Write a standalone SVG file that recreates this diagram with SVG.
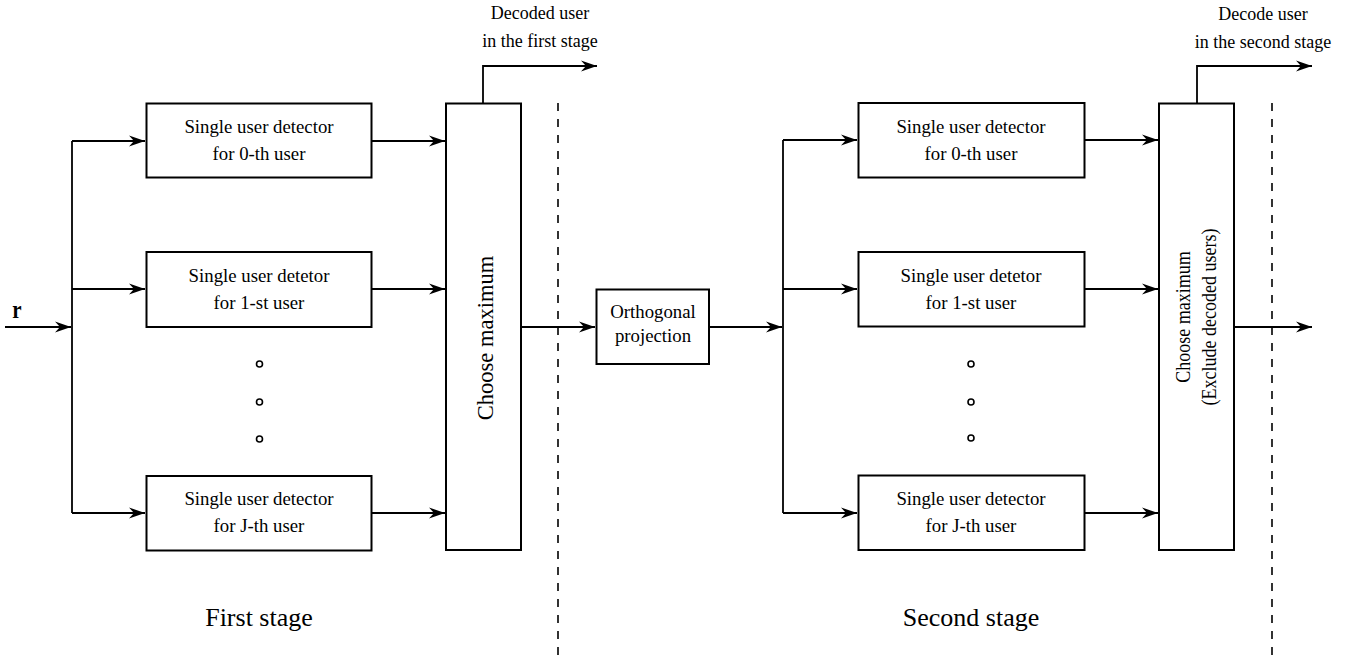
<svg xmlns="http://www.w3.org/2000/svg" width="1349" height="662" viewBox="0 0 1349 662">
<defs>
<style>
.box{fill:#fff;stroke:#000;stroke-width:2}
.ln{fill:none;stroke:#000;stroke-width:1.8}
.dash{fill:none;stroke:#000;stroke-width:1.6;stroke-dasharray:8 8}
.t{font-family:"Liberation Serif","Times New Roman",serif;fill:#000;text-anchor:middle}
.b{font-size:18.8px}
.lab{font-size:18px}
.st{font-size:26px}
.dot{fill:#fff;stroke:#000;stroke-width:1.6}
</style>
<marker id="ah" viewBox="-17 -6 19 12" refX="0" refY="0" markerWidth="19" markerHeight="12" markerUnits="userSpaceOnUse" orient="auto">
<path d="M-16,-5.5 L0,0 L-16,5.5 L-11,0 Z" fill="#000"/>
</marker>
</defs>

<g id="connectors">
<path class="ln" d="M5,327 H71" marker-end="url(#ah)"/>
<path class="ln" d="M72,141 V513"/>
<path class="ln" d="M72,141 H145" marker-end="url(#ah)"/>
<path class="ln" d="M72,289 H145" marker-end="url(#ah)"/>
<path class="ln" d="M72,513 H145" marker-end="url(#ah)"/>
<path class="ln" d="M372,141 H445" marker-end="url(#ah)"/>
<path class="ln" d="M372,289 H445" marker-end="url(#ah)"/>
<path class="ln" d="M372,513 H445" marker-end="url(#ah)"/>
<path class="ln" d="M483,103 V66 H597" marker-end="url(#ah)"/>
<path class="ln" d="M521,327 H595" marker-end="url(#ah)"/>
<path class="ln" d="M709,327 H782" marker-end="url(#ah)"/>
<path class="ln" d="M783,140 V513"/>
<path class="ln" d="M783,140 H857" marker-end="url(#ah)"/>
<path class="ln" d="M783,289 H857" marker-end="url(#ah)"/>
<path class="ln" d="M783,513 H857" marker-end="url(#ah)"/>
<path class="ln" d="M1084,140 H1158" marker-end="url(#ah)"/>
<path class="ln" d="M1084,289 H1158" marker-end="url(#ah)"/>
<path class="ln" d="M1084,513 H1158" marker-end="url(#ah)"/>
<path class="ln" d="M1197,103 V66 H1312" marker-end="url(#ah)"/>
<path class="ln" d="M1234,327 H1312" marker-end="url(#ah)"/>
</g>

<g id="dividers">
<path class="dash" d="M558,103 V662"/>
<path class="dash" d="M1272,103 V662"/>
</g>

<g id="input">
<text class="t" x="17" y="318" font-size="21" font-weight="bold" transform="translate(17,318) scale(1,1.2) translate(-17,-318)">r</text>
</g>

<g id="det1-0">
<rect class="box" x="146.5" y="103.5" width="225" height="74"/>
<text class="t b" x="259" y="132.5">Single user detector</text>
<text class="t b" x="259" y="159.5">for 0-th user</text>
</g>
<g id="det1-1">
<rect class="box" x="146.5" y="252" width="225" height="75"/>
<text class="t b" x="259" y="281.5">Single user detetor</text>
<text class="t b" x="259" y="308.5">for 1-st user</text>
</g>
<g id="dots1">
<circle class="dot" cx="259.5" cy="364" r="3"/>
<circle class="dot" cx="259.5" cy="402" r="3"/>
<circle class="dot" cx="259.5" cy="439" r="3"/>
</g>
<g id="det1-J">
<rect class="box" x="146.5" y="476" width="225" height="74.5"/>
<text class="t b" x="259" y="505">Single user detector</text>
<text class="t b" x="259" y="532">for J-th user</text>
</g>
<g id="choose1">
<rect class="box" x="446" y="103.5" width="75" height="446.5"/>
<text class="t" font-size="22.5" transform="translate(493,338) rotate(-90)" x="0" y="0">Choose maximum</text>
</g>
<g id="label1">
<text class="t lab" x="540" y="19">Decoded user</text>
<text class="t lab" x="540" y="47">in the first stage</text>
</g>
<g id="stage1">
<text class="t st" x="259" y="626">First stage</text>
</g>

<g id="orth">
<rect class="box" x="596.5" y="289.5" width="112.5" height="74.5"/>
<text class="t b" x="653" y="318">Orthogonal</text>
<text class="t b" x="653" y="342">projection</text>
</g>

<g id="det2-0">
<rect class="box" x="858.5" y="103" width="226" height="74.5"/>
<text class="t b" x="971" y="132.5">Single user detector</text>
<text class="t b" x="971" y="159.5">for 0-th user</text>
</g>
<g id="det2-1">
<rect class="box" x="858.5" y="252" width="226" height="74.5"/>
<text class="t b" x="971" y="281.5">Single user detetor</text>
<text class="t b" x="971" y="308.5">for 1-st user</text>
</g>
<g id="dots2">
<circle class="dot" cx="971" cy="364" r="3"/>
<circle class="dot" cx="971" cy="402" r="3"/>
<circle class="dot" cx="971" cy="438" r="3"/>
</g>
<g id="det2-J">
<rect class="box" x="858.5" y="475.5" width="226" height="74.5"/>
<text class="t b" x="971" y="505">Single user detector</text>
<text class="t b" x="971" y="532">for J-th user</text>
</g>
<g id="choose2">
<rect class="box" x="1159" y="103.5" width="75" height="446.5"/>
<text class="t" font-size="18" transform="translate(1190,317) rotate(-90) scale(1,1.2)" x="0" y="0">Choose maximum</text>
<text class="t" font-size="18" transform="translate(1216,317) rotate(-90) scale(1,1.2)" x="0" y="0">(Exclude decoded users)</text>
</g>
<g id="label2">
<text class="t lab" x="1263" y="20">Decode user</text>
<text class="t lab" x="1263" y="48">in the second stage</text>
</g>
<g id="stage2">
<text class="t st" x="971" y="626">Second stage</text>
</g>
</svg>
